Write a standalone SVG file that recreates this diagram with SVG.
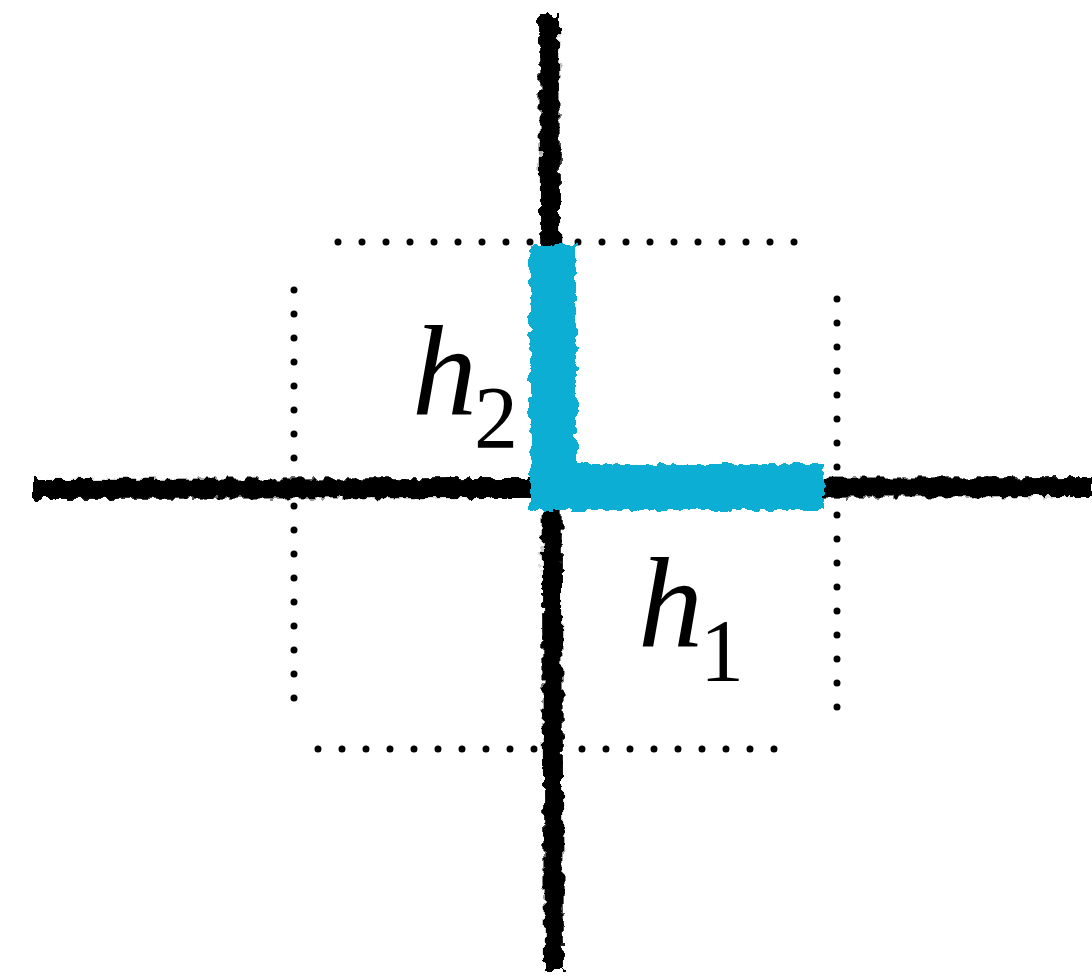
<svg xmlns="http://www.w3.org/2000/svg" width="1092" height="977" viewBox="0 0 1092 977">
<defs>
<filter id="rough" x="-10%" y="-10%" width="120%" height="120%">
<feTurbulence type="fractalNoise" baseFrequency="0.12" numOctaves="2" seed="3" result="n"/>
<feDisplacementMap in="SourceGraphic" in2="n" scale="10" xChannelSelector="R" yChannelSelector="G"/>
</filter>
<style>
.dots{fill:none;stroke:#000;stroke-width:7;stroke-linecap:round;stroke-dasharray:0 24}
.ink{stroke:#000;stroke-width:20;fill:none;stroke-linecap:butt}
.cyan{stroke:#0aaed4;stroke-width:46;fill:none}
.lbl{font-family:"Liberation Serif",serif;fill:#000}
</style>
</defs>
<g id="dotted-frame">
<line class="dots" x1="338" y1="242" x2="794.5" y2="242"/>
<line class="dots" x1="294" y1="290" x2="294" y2="698.5"/>
<line class="dots" x1="318" y1="749" x2="774.5" y2="749"/>
<line class="dots" x1="837" y1="299" x2="837" y2="707.5"/>
</g>
<g id="axes" filter="url(#rough)">
<line class="ink" x1="549" y1="15" x2="554" y2="970"/>
<line class="ink" x1="33" y1="489" x2="1092" y2="487"/>
</g>
<g id="highlight" filter="url(#rough)">
<path class="cyan" d="M553 244 V487 H824"/>
</g>
<g id="label-h2">
<text class="lbl" x="412" y="415" font-size="130" font-style="italic">h</text>
<text class="lbl" x="474" y="447" font-size="88">2</text>
</g>
<g id="label-h1">
<text class="lbl" x="638" y="647" font-size="130" font-style="italic">h</text>
<text class="lbl" x="700" y="680" font-size="88">1</text>
</g>
</svg>
